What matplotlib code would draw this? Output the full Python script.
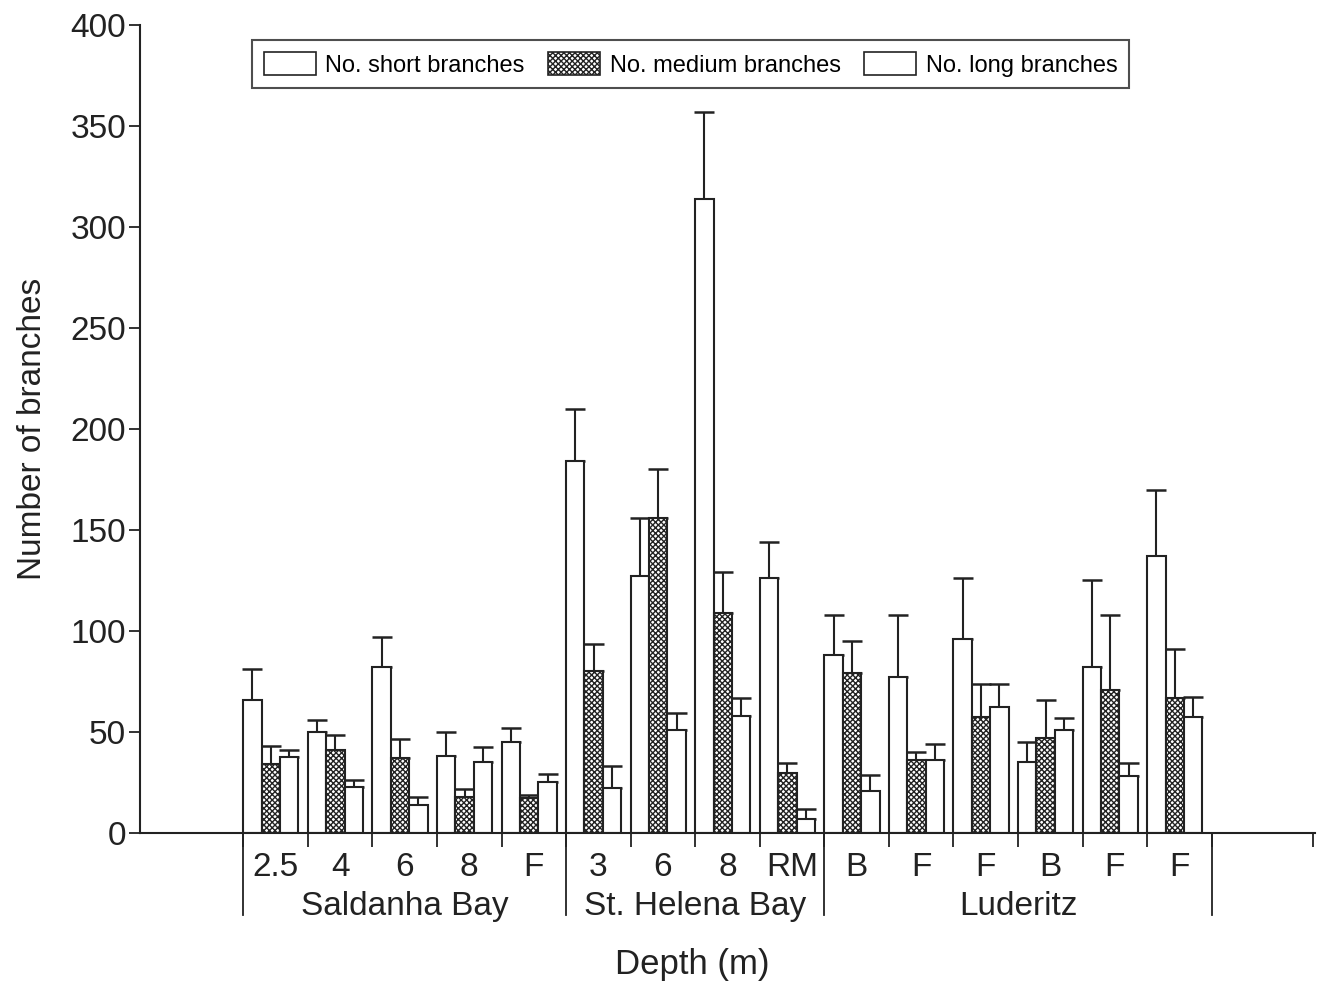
import matplotlib
matplotlib.use("Agg")
import matplotlib.pyplot as plt
import numpy as np
from matplotlib.patches import Patch

plt.rcParams['font.family'] = ['Liberation Sans', 'DejaVu Sans']
plt.rcParams['hatch.linewidth'] = 1.0

# sites, grouped by locality
depth_labels = ['2.5', '4', '6', '8', 'F', '3', '6', '8', 'RM', 'B', 'F', 'F', 'B', 'F', 'F']
localities = ['Saldanha Bay', 'St. Helena Bay', 'Luderitz']
locality_sizes = [5, 4, 6]

# mean number of branches per site
short_mean = [66, 50, 82, 38, 45, 184, 127, 314, 126, 88, 77, 96, 35, 82, 137]
medium_mean = [34, 41, 37, 18, 17.5, 80, 156, 109, 29.5, 79, 36, 57.5, 47, 71, 67]
long_mean = [37.5, 23, 14, 35, 25, 22.5, 51, 58, 7, 21, 36, 62.5, 51, 28, 57.5]

# upper standard error
short_err = [15, 6, 15, 12, 7, 26, 29, 43, 18, 20, 31, 30, 10, 43, 33]
medium_err = [9, 7.5, 9.5, 4, 1.5, 13.5, 24, 20, 5, 16, 4, 16.5, 19, 37, 24]
long_err = [3.5, 3, 4, 7.5, 4, 10.5, 8.5, 9, 5, 7.5, 8, 11.5, 6, 6.5, 10]

series = [
    ('No. short branches', short_mean, short_err, ''),
    ('No. medium branches', medium_mean, medium_err, 'xxxxxx'),
    ('No. long branches', long_mean, long_err, ''),
]

fig = plt.figure(figsize=(13.18, 9.86), dpi=100)
ax = fig.add_axes([0.1062, 0.1552, 0.8915, 0.8194])

n = len(depth_labels)
x = np.arange(n)
width = 0.285
for k, (name, mean, err, hatch) in enumerate(series):
    pos = x - 0.5 + width * (k + 0.5)
    ax.bar(pos, mean, width, color='white', edgecolor='#222222', linewidth=1.5,
           hatch=hatch, zorder=2)
    ax.errorbar(pos, mean, yerr=[np.zeros(n), err], fmt='none', ecolor='#222222',
                elinewidth=1.5, capsize=7.5, capthick=1.8, zorder=1)

ax.set_xlim(-2.1, 16.1)
ax.set_ylim(0, 400)
for s in ['top', 'right']:
    ax.spines[s].set_visible(False)
for s in ['left', 'bottom']:
    ax.spines[s].set_linewidth(1.5)
    ax.spines[s].set_color('#222222')

ax.set_yticks(np.arange(0, 401, 50))
ax.tick_params(axis='y', direction='out', length=8, width=1.3, labelsize=24, pad=2,
               colors='#222222')

ax.set_xticks(x)
ax.set_xticklabels(depth_labels)
ax.tick_params(axis='x', which='major', length=0, labelsize=24, pad=14, colors='#222222')
ax.set_xticks(np.append(np.arange(n + 1) - 0.5, 16.07), minor=True)
ax.tick_params(axis='x', which='minor', direction='out', length=10, width=1.3,
               color='#222222')

# locality separators and names beneath the depth labels
trans = ax.get_xaxis_transform()
edges = np.concatenate([[0], np.cumsum(locality_sizes)]) - 0.5
for e in edges:
    ax.plot([e, e], [0, -0.102], transform=trans, color='#222222', lw=1.3,
            clip_on=False)
for name, a, b in zip(localities, edges[:-1], edges[1:]):
    ax.text((a + b) / 2, -0.091, name, transform=trans, ha='center', va='center',
            fontsize=24, color='#222222')

fig.text(0.525, 0.022, 'Depth (m)', ha='center', va='center', fontsize=25,
         color='#222222')
ax.set_ylabel('Number of branches', fontsize=24, color='#222222', labelpad=16)

handles = [Patch(facecolor='white', edgecolor='#222222', hatch=h, linewidth=1.2)
           for _, _, _, h in series]
leg = ax.legend(handles, [s[0] for s in series], ncol=3, loc='upper left',
                bbox_to_anchor=(0.0953, 0.981), fontsize=17, frameon=True,
                fancybox=False, edgecolor='#222222', handlelength=2.2,
                handleheight=1.1, columnspacing=1.0, handletextpad=0.4,
                borderpad=0.5, borderaxespad=0)
leg.get_frame().set_linewidth(1.5)

fig.savefig('out.png', dpi=100)
